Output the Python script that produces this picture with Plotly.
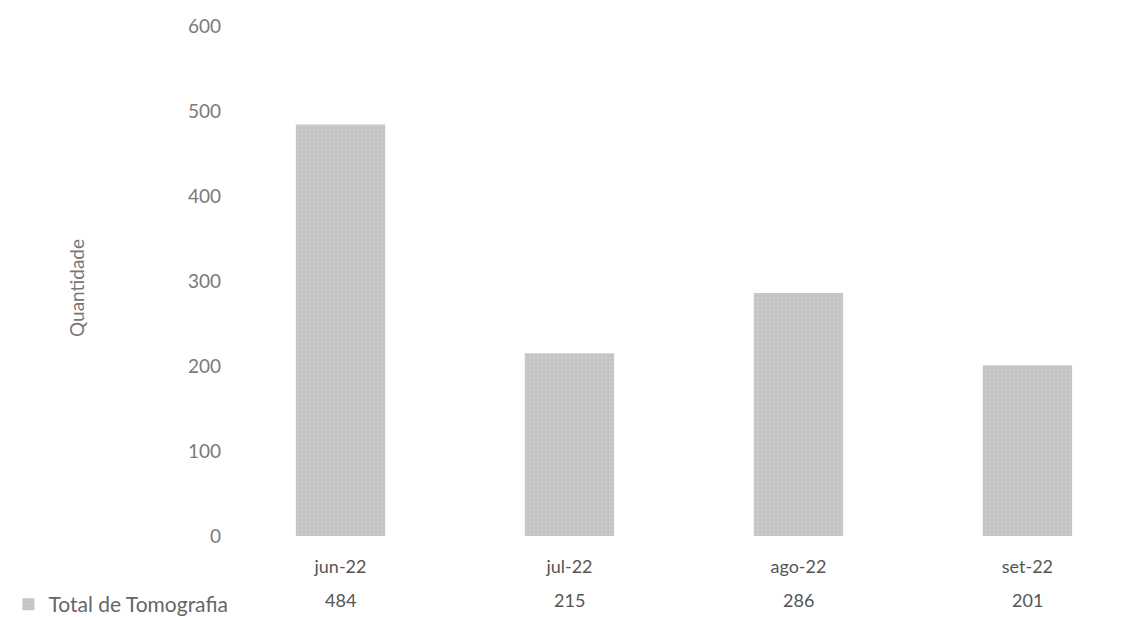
import plotly.graph_objects as go

categories = ["jun-22", "jul-22", "ago-22", "set-22"]
values = [484, 215, 286, 201]
series_name = "Total de Tomografia"
y_ticks = [0, 100, 200, 300, 400, 500, 600]

W, H = 1126, 617
L, R, T, B = 208, 0, 18, 80
pw = W - L - R
ph = H - T - B
cat_step = 231.5  # pixels per category in the reference

def px_to_paper_y(py):
    return (T + ph - py) / ph

def px_to_paper_x(px):
    return (px - L) / pw

fig = go.Figure()
fig.add_trace(go.Bar(
    x=categories, y=values, name=series_name,
    marker=dict(color="#c9c9c9", line=dict(width=0),
                pattern=dict(shape=".", fgcolor="#b4b4b4", size=4, solidity=0.25)),
    showlegend=True,
))

# data table values row
for c, v in zip(categories, values):
    fig.add_annotation(x=c, y=px_to_paper_y(602), xref="x", yref="paper",
                       text=str(v), showarrow=False,
                       font=dict(family="Lato", size=18, color="#555555"),
                       xanchor="center", yanchor="middle")

fig.add_annotation(x=px_to_paper_x(57), y=px_to_paper_y(285), xref="paper", yref="paper",
                   text="Quantidade", textangle=-90, showarrow=False,
                   xanchor="center", yanchor="middle",
                   font=dict(family="Lato", size=19, color="#777777"))

fig.update_layout(
    width=W, height=H,
    margin=dict(l=L, r=R, t=T, b=B),
    paper_bgcolor="white", plot_bgcolor="white",
    bargap=0.61,
    font=dict(family="Lato", color="#777777"),
    legend=dict(x=px_to_paper_x(-12), y=px_to_paper_y(607), xanchor="left", yanchor="middle",
                font=dict(family="Lato", size=21, color="#666666"),
                itemwidth=30, bgcolor="rgba(0,0,0,0)"),
    xaxis=dict(range=[-0.5, -0.5 + pw / cat_step], showgrid=False, showline=False, ticks="",
               tickfont=dict(size=18, color="#555555"), ticklabelstandoff=18),
    yaxis=dict(range=[0, 600], tickvals=y_ticks, showgrid=False, showline=False, zeroline=False,
               ticks="", tickfont=dict(size=19, color="#7a7a7a"), ticklabelstandoff=4),
)

fig.write_html("out.html")
